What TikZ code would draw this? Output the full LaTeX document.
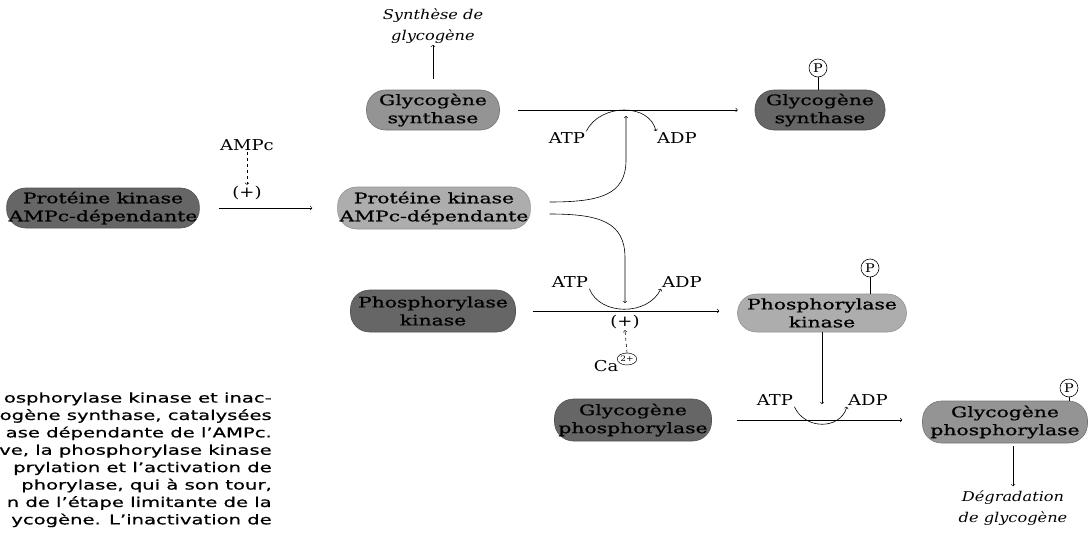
\documentclass[tikz,border=0pt]{standalone}
\usepackage{fontspec}
\setmainfont{DejaVu Serif}[FakeStretch=1.2]
\newfontfamily\enzfont{DejaVu Serif}[FakeStretch=1.4, FakeBold=0.8]
\newfontfamily\blocfont{DejaVu Sans}[FakeStretch=1.45, FakeBold=0.6]
\usetikzlibrary{shapes.geometric}
\definecolor{grisfonce}{gray}{0.40}
\definecolor{grismoyen}{gray}{0.58}
\definecolor{grisclair}{gray}{0.68}
\begin{document}
\begin{tikzpicture}[x=1pt, y=-1pt, line width=0.6pt,
		enzyme/.style={rounded corners=19pt, minimum height=40pt, align=center, inner sep=2pt, font=\enzfont\fontsize{14.5}{18}\selectfont},
		fonce/.style={enzyme, fill=grisfonce, draw=grisfonce!80!black},
		moyen/.style={enzyme, fill=grismoyen, draw=grismoyen!80!black},
		clair/.style={enzyme, fill=grisclair, draw=grisclair!85!black},
		etiq/.style={inner sep=1pt, font=\fontsize{15}{17}\selectfont},
		processus/.style={align=center, inner sep=1pt, font=\itshape\fontsize{13.5}{21}\selectfont},
		phospho/.style={circle, draw, inner sep=0pt, minimum size=18pt, font=\fontsize{12}{12}\selectfont},
		trait/.style={->}
		]
	\useasboundingbox (0,0) rectangle (1088,533);
	% ligne du haut : glycogene synthase
	\node [processus] (synth) at (433,26) {Synthèse de\\glycogène};
	\node [moyen, minimum width=133pt] (gs) at (433,110) {Glycogène\\synthase};
	\node [fonce, minimum width=130pt] (gsP) at (820,110) {Glycogène\\synthase};
	\node [phospho] (Pgs) at (818,68) {P};
	\node [etiq] (atp1) at (567,138) {ATP};
	\node [etiq] (adp1) at (677,138) {ADP};
	\coordinate (c1) at (626,116);
	% proteine kinase
	\node [etiq] (ampc) at (247,145) {AMPc};
	\node [etiq] (plus1) at (247,193) {(+)};
	\node [fonce, minimum width=190pt] (pkc) at (103,208) {Protéine kinase\\AMPc-dépendante};
	\node [clair, minimum width=188pt, minimum height=42pt] (pka) at (434,208) {Protéine kinase\\AMPc-dépendante};
	% phosphorylase kinase
	\node [fonce, minimum width=165pt, minimum height=42pt] (phk) at (433,311) {Phosphorylase\\kinase};
	\node [clair, minimum width=169pt, minimum height=38pt] (phkP) at (822,313) {Phosphorylase\\kinase};
	\node [phospho] (Pphk) at (870,268) {P};
	\node [etiq] (atp2) at (570,282) {ATP};
	\node [etiq] (adp2) at (682,282) {ADP};
	\node [etiq] (plus2) at (625,322) {(+)};
	\node [etiq] (ca) at (606,366) {Ca};
	\node [ellipse, draw, inner sep=0.3pt, minimum width=17pt, minimum height=12pt, line width=0.5pt, font=\fontsize{7.5}{7.5}\selectfont] (ca2) at (627,359) {2+};
	\coordinate (c2) at (625,303);
	% glycogene phosphorylase
	\node [fonce, minimum width=157pt, minimum height=42pt] (gp) at (633,420) {Glycogène\\phosphorylase};
	\node [moyen, minimum width=165pt, minimum height=42pt] (gpP) at (1005,422) {Glycogène\\phosphorylase};
	\node [phospho] (Pgp) at (1069,388) {P};
	\node [etiq] (atp3) at (775,400) {ATP};
	\node [etiq] (adp3) at (868,400) {ADP};
	\node [processus] (degr) at (1013,508) {Dégradation\\de glycogène};
	\coordinate (c3) at (822,404);
	\node [anchor=north east, align=right, inner sep=0pt, font=\blocfont\fontsize{13.5}{17.4}\selectfont] (texte) at (272,392) {osphorylase kinase et inac-\\ogène synthase, catalysées\\ase dépendante de l’AMPc.\\ve, la phosphorylase kinase\\prylation et l’activation de\\phorylase, qui à son tour,\\n de l’étape limitante de la\\ycogène. L’inactivation de};
	% fleches
	\draw [trait, shorten <=11pt] (gs.north) -- (synth.south);
	\draw [trait, shorten <=18pt, shorten >=17pt] (gs.east) -- (gsP.west);
	\draw (Pgs.south) -- (Pgs.south |- gsP.north);
	\draw [trait] (atp1.north east) .. controls (600,103) and (650,103) .. (adp1.north west);
	\draw [trait] ([shift={(19pt,6pt)}]pka.east) .. controls (600,202) and (626,195) .. (626,160) -- (c1);
	\draw [trait] ([shift={(19pt,-6pt)}]pka.east) .. controls (600,214) and (625,222) .. (625,258) -- (c2);
	\draw [trait, dashed] (ampc) -- (plus1);
	\draw [trait, shorten <=19pt, shorten >=25pt] (pkc.east) -- (pka.west);
	\draw [trait, shorten <=17pt, shorten >=18pt] (phk.east) -- (phk.east -| phkP.west);
	\draw (Pphk.south) -- (Pphk.south |- phkP.north);
	\draw [trait] (atp2.south east) .. controls (600,316) and (648,316) .. (adp2.south west);
	\draw [trait, dashed] (ca2.north) -- (plus2.south);
	\draw [trait] (phkP.south) -- (c3);
	\draw [trait, shorten <=25pt, shorten >=20pt] (gp.east) -- (gp.east -| gpP.west);
	\draw (Pgp.south) -- (Pgp.south |- gpP.north);
	\draw [trait] (atp3.south east) .. controls (805,430) and (840,430) .. (adp3.south west);
	\draw [trait, shorten <=3pt, shorten >=3pt] (degr.north |- gpP.south) -- (degr.north);
\end{tikzpicture}
\end{document}
